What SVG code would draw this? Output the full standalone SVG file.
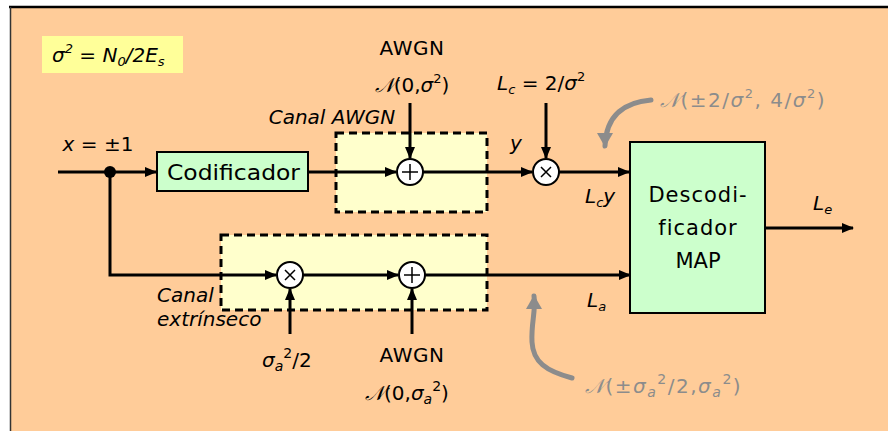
<svg xmlns="http://www.w3.org/2000/svg" width="888" height="431" viewBox="0 0 888 431">
<defs>
<style>
.t{font-family:"DejaVu Sans","Liberation Sans",sans-serif;font-size:20px;fill:#000}
.it{font-style:italic}
.gr{fill:#8c8c8c;letter-spacing:1.5px}
.sp{letter-spacing:0.5px}
.cm{font-family:"DejaVu Sans","Liberation Sans",sans-serif;font-size:21px;fill:#000}
.ln{stroke:#000;stroke-width:3;fill:none}
.dash{stroke:#000;stroke-width:3;stroke-dasharray:8 5;fill:#FFFFCC}
.box{stroke:#000;stroke-width:2;fill:#CCFFCC}
.op{stroke:#000;stroke-width:2;fill:#fff}
.gcurve{stroke:#8c8c8c;stroke-width:5;fill:none;stroke-linecap:round}
</style>
<marker id="ah" markerWidth="12" markerHeight="10" refX="11" refY="5" orient="auto" markerUnits="userSpaceOnUse">
<path d="M0,0 L12,5 L0,10 Z" fill="#000"/>
</marker>
<marker id="gah" markerWidth="16" markerHeight="14" refX="8" refY="13" orient="0" markerUnits="userSpaceOnUse">
<path d="M0,0 L16,0 L8,14 Z" fill="#8c8c8c"/>
</marker>
<marker id="gahu" markerWidth="16" markerHeight="14" refX="8" refY="1" orient="0" markerUnits="userSpaceOnUse">
<path d="M0,14 L16,14 L8,0 Z" fill="#8c8c8c"/>
</marker>
</defs>
<rect x="0" y="0" width="888" height="431" fill="#fff"/>
<rect x="10" y="7" width="880" height="430" fill="#FFCC99"/>
<line x1="9" y1="7" x2="888" y2="7" stroke="#000" stroke-width="2.5"/>
<line x1="10.5" y1="7" x2="10.5" y2="431" stroke="#333" stroke-width="1.5"/>

<g id="formula">
<rect x="42" y="36" width="141" height="37" fill="#FFFF99"/>
<text x="52" y="62" class="t it">σ<tspan font-size="13" dy="-9">2</tspan><tspan dy="9"> = N</tspan><tspan font-size="13" dy="4">0</tspan><tspan dy="-4">/2E</tspan><tspan font-size="13" dy="4">s</tspan></text>
</g>

<g id="dashed-awgn"><rect x="336" y="133" width="151" height="79" class="dash"/></g>
<g id="dashed-ext"><rect x="221" y="235" width="266" height="75" class="dash"/></g>

<g id="connectors">
<line x1="58" y1="172" x2="156" y2="172" class="ln" marker-end="url(#ah)"/>
<line x1="308" y1="172" x2="396" y2="172" class="ln" marker-end="url(#ah)"/>
<line x1="410" y1="103" x2="410" y2="158" class="ln" marker-end="url(#ah)"/>
<line x1="423" y1="172" x2="532" y2="172" class="ln" marker-end="url(#ah)"/>
<line x1="546" y1="103" x2="546" y2="158" class="ln" marker-end="url(#ah)"/>
<line x1="559" y1="172" x2="629" y2="172" class="ln" marker-end="url(#ah)"/>
<polyline points="110,172 110,275 276,275" class="ln" marker-end="url(#ah)"/>
<line x1="303" y1="275" x2="398" y2="275" class="ln" marker-end="url(#ah)"/>
<line x1="425" y1="275" x2="630" y2="275" class="ln" marker-end="url(#ah)"/>
<line x1="290" y1="334" x2="290" y2="289" class="ln" marker-end="url(#ah)"/>
<line x1="412" y1="334" x2="412" y2="289" class="ln" marker-end="url(#ah)"/>
<line x1="766" y1="228" x2="853" y2="228" class="ln" marker-end="url(#ah)"/>
<circle cx="110" cy="172" r="6" fill="#000"/>
<path d="M651,100 C626,102 606,114 605,146" class="gcurve" marker-end="url(#gah)"/>
<path d="M572,378 C546,371 533,362 532,342 C531,322 536,312 534,296" class="gcurve" marker-end="url(#gahu)"/>
</g>

<g id="codificador">
<rect x="157" y="152" width="151" height="39" class="box"/>
<text x="167" y="180" class="cm" textLength="133" lengthAdjust="spacingAndGlyphs">Codificador</text>
</g>

<g id="sum1">
<circle cx="410" cy="172" r="13" class="op"/>
<path d="M402,172 H418 M410,164 V180" stroke="#000" stroke-width="1.5"/>
</g>
<g id="mul1">
<circle cx="546" cy="172" r="13" class="op"/>
<path d="M541,167 L551,177 M551,167 L541,177" stroke="#000" stroke-width="1.5"/>
</g>
<g id="mul2">
<circle cx="290" cy="275" r="13" class="op"/>
<path d="M285,270 L295,280 M295,270 L285,280" stroke="#000" stroke-width="1.5"/>
</g>
<g id="sum2">
<circle cx="412" cy="275" r="13" class="op"/>
<path d="M404,275 H420 M412,267 V283" stroke="#000" stroke-width="1.5"/>
</g>

<g id="decodificador">
<rect x="630" y="142" width="135" height="171" class="box"/>
<text x="698" y="202" class="cm" text-anchor="middle" letter-spacing="1">Descodi-</text>
<text x="698" y="235" class="cm" text-anchor="middle" letter-spacing="1">ficador</text>
<text x="698" y="268" class="cm" text-anchor="middle">MAP</text>
</g>

<g id="labels">
<text x="98" y="151" class="t" text-anchor="middle"><tspan class="it">x</tspan> = ±1</text>
<text x="412" y="55" class="t sp" text-anchor="middle">AWGN</text>
<text x="412" y="92" class="t" text-anchor="middle"><tspan class="it">𝒩</tspan>(0,<tspan class="it">σ</tspan><tspan font-size="13" dy="-9">2</tspan><tspan dy="9">)</tspan></text>
<text x="332" y="124" class="t it" text-anchor="middle">Canal AWGN</text>
<text x="516" y="150" class="t it" text-anchor="middle">y</text>
<text x="497" y="90" class="t"><tspan class="it">L</tspan><tspan font-size="13" dy="4" class="it">c</tspan><tspan dy="-4"> = 2/</tspan><tspan class="it">σ</tspan><tspan font-size="13" dy="-9">2</tspan></text>
<text x="660" y="107" class="t gr"><tspan class="it">𝒩</tspan>(±2/<tspan class="it">σ</tspan><tspan font-size="13" dy="-9">2</tspan><tspan dy="9">, 4/</tspan><tspan class="it">σ</tspan><tspan font-size="13" dy="-9">2</tspan><tspan dy="9">)</tspan></text>
<text x="585" y="203" class="t it">L<tspan font-size="13" dy="4">c</tspan><tspan dy="-4">y</tspan></text>
<text x="813" y="210" class="t it">L<tspan font-size="13" dy="4">e</tspan></text>
<text x="587" y="307" class="t it">L<tspan font-size="13" dy="4">a</tspan></text>
<text x="157" y="302" class="t it">Canal</text>
<text x="157" y="326" class="t it">extrínseco</text>
<text x="262" y="367" class="t"><tspan class="it">σ</tspan><tspan font-size="14" dy="4" class="it">a</tspan><tspan font-size="14" dy="-13">2</tspan><tspan dy="9">/2</tspan></text>
<text x="412" y="362" class="t sp" text-anchor="middle">AWGN</text>
<text x="365" y="400" class="t"><tspan class="it">𝒩</tspan>(0,<tspan class="it">σ</tspan><tspan font-size="14" dy="4" class="it">a</tspan><tspan font-size="14" dy="-13">2</tspan><tspan dy="9">)</tspan></text>
<text x="585" y="393" class="t gr"><tspan class="it">𝒩</tspan>(±<tspan class="it">σ</tspan><tspan font-size="14" dy="4" class="it">a</tspan><tspan font-size="14" dy="-13">2</tspan><tspan dy="9">/2,</tspan><tspan class="it">σ</tspan><tspan font-size="14" dy="4" class="it">a</tspan><tspan font-size="14" dy="-13">2</tspan><tspan dy="9">)</tspan></text>
</g>
</svg>
